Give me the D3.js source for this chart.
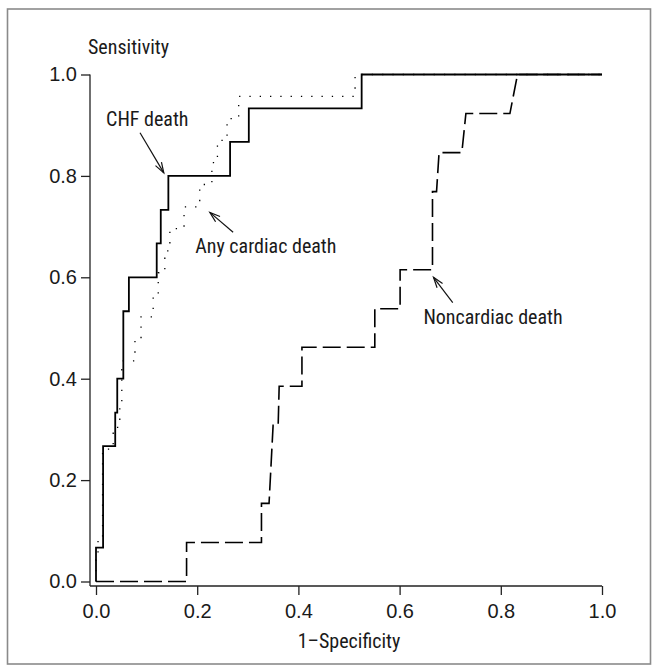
<!DOCTYPE html>
<html>
<head>
<meta charset="utf-8">
<script src="https://cdn.jsdelivr.net/npm/d3@7"></script>
<style>
  html, body { margin: 0; padding: 0; background: #fff; }
  svg { display: block; }
  text { font-family: "Liberation Sans Narrow", "Arial Narrow", "Roboto Condensed", "Liberation Sans", sans-serif; fill: #1a1a1a; }
</style>
</head>
<body>
<svg id="chart" width="657" height="672"></svg>
<script>
// ---- data (1-specificity, sensitivity) ----
const chfDeath = [
  [0,0],[0,0.067],[0.014,0.067],[0.014,0.267],[0.038,0.267],[0.038,0.333],
  [0.042,0.333],[0.042,0.4],[0.054,0.4],[0.054,0.533],[0.065,0.533],[0.065,0.6],
  [0.12,0.6],[0.12,0.667],[0.128,0.667],[0.128,0.733],[0.143,0.733],[0.143,0.8],
  [0.265,0.8],[0.265,0.867],[0.302,0.867],[0.302,0.933],[0.525,0.933],[0.525,1],[1,1]
];
const anyCardiacDeath = [
  [0,0],[0,0.043],[0.004,0.043],[0.004,0.087],[0.013,0.087],[0.013,0.261],
  [0.034,0.261],[0.034,0.304],[0.047,0.304],[0.047,0.348],[0.051,0.348],[0.051,0.435],
  [0.077,0.435],[0.077,0.478],[0.089,0.478],[0.089,0.522],[0.113,0.522],[0.113,0.565],
  [0.123,0.565],[0.123,0.609],[0.136,0.609],[0.136,0.652],[0.146,0.652],[0.146,0.696],
  [0.174,0.696],[0.174,0.739],[0.205,0.739],[0.205,0.783],[0.229,0.783],[0.229,0.826],
  [0.24,0.826],[0.24,0.87],[0.259,0.87],[0.259,0.913],[0.282,0.913],[0.282,0.957],
  [0.512,0.957],[0.512,1],[1,1]
];
const noncardiacDeath = [
  [0,0],[0.179,0],[0.179,0.077],[0.327,0.077],[0.327,0.154],[0.342,0.154],
  [0.350,0.308],[0.360,0.308],[0.362,0.385],[0.407,0.385],[0.407,0.462],[0.551,0.462],
  [0.551,0.538],[0.601,0.538],[0.601,0.615],[0.665,0.615],[0.665,0.769],[0.673,0.769],
  [0.678,0.846],[0.723,0.846],[0.731,0.923],[0.818,0.923],[0.833,1],[1,1]
];
const xTicks = [0, 0.2, 0.4, 0.6, 0.8, 1.0];
const yTicks = [0, 0.2, 0.4, 0.6, 0.8, 1.0];
const xLabel = "1–Specificity";
const yLabel = "Sensitivity";
// annotations: label position and arrow (tail -> tip), in data units
const labels = [
  { text: "CHF death",        x: 0.020, y: 0.898, tail: [0.087, 0.885], tip: [0.134, 0.806] },
  { text: "Any cardiac death", x: 0.196, y: 0.647, tail: [0.271, 0.689], tip: [0.225, 0.728] },
  { text: "Noncardiac death",  x: 0.647, y: 0.508, tail: [0.705, 0.550], tip: [0.667, 0.600] }
];

// ---- layout ----
const svg = d3.select("#chart");
const x = d3.scaleLinear().domain([0, 1]).range([96, 602]);
const y = d3.scaleLinear().domain([0, 1]).range([581.5, 74.5]);
const axisX = 90, axisY = 586;
const fontSize = 20;

// frame
svg.append("rect").attr("x", 7.5).attr("y", 9).attr("width", 643).attr("height", 655)
  .attr("fill", "none").attr("stroke", "#8a8a8a").attr("stroke-width", 1.6);

// axes
const gy = svg.append("g").attr("transform", `translate(${axisX},0)`)
  .call(d3.axisLeft(y).tickValues(yTicks).tickFormat(d3.format(".1f")).tickSize(9).tickSizeOuter(0).tickPadding(4));
gy.select(".domain").remove();
const gx = svg.append("g").attr("transform", `translate(0,${axisY})`)
  .call(d3.axisBottom(x).tickValues(xTicks).tickFormat(d3.format(".1f")).tickSize(9).tickSizeOuter(0).tickPadding(9));
gx.select(".domain").remove();
svg.selectAll(".tick line").attr("stroke", "#222").attr("stroke-width", 1.3);
svg.selectAll(".tick text").attr("font-size", fontSize).attr("fill", "#1a1a1a")
  .style("font-family", '"Liberation Sans Narrow", "Arial Narrow", "Liberation Sans", sans-serif');
svg.append("line").attr("x1", axisX).attr("x2", axisX).attr("y1", y.range()[1]).attr("y2", axisY)
  .attr("stroke", "#222").attr("stroke-width", 1.3);
svg.append("line").attr("x1", axisX).attr("x2", x.range()[1]).attr("y1", axisY).attr("y2", axisY)
  .attr("stroke", "#222").attr("stroke-width", 1.3);

// axis titles
svg.append("text").attr("x", 88).attr("y", 54).attr("font-size", fontSize).text(yLabel);
svg.append("text").attr("x", (x.range()[0] + x.range()[1]) / 2).attr("y", 648)
  .attr("text-anchor", "middle").attr("font-size", fontSize).text(xLabel);

// curves
const line = d3.line().x(d => x(d[0])).y(d => y(d[1]));
svg.append("path").datum(noncardiacDeath).attr("d", line)
  .attr("fill", "none").attr("stroke", "#000").attr("stroke-width", 1.6)
  .attr("stroke-dasharray", "18,6");
svg.append("path").datum(anyCardiacDeath).attr("d", line)
  .attr("fill", "none").attr("stroke", "#000").attr("stroke-width", 1.3)
  .attr("stroke-dasharray", "1.3,9");
svg.append("path").datum(chfDeath).attr("d", line)
  .attr("fill", "none").attr("stroke", "#000").attr("stroke-width", 1.8);

// annotations
labels.forEach(l => {
  svg.append("text").attr("x", x(l.x)).attr("y", y(l.y)).attr("font-size", fontSize).text(l.text);
  const x1 = x(l.tail[0]), y1 = y(l.tail[1]), x2 = x(l.tip[0]), y2 = y(l.tip[1]);
  svg.append("line").attr("x1", x1).attr("y1", y1).attr("x2", x2).attr("y2", y2)
    .attr("stroke", "#111").attr("stroke-width", 1.2);
  const ang = Math.atan2(y2 - y1, x2 - x1), len = 11, spread = 0.32;
  const p = [
    [x2 - len * Math.cos(ang - spread), y2 - len * Math.sin(ang - spread)],
    [x2, y2],
    [x2 - len * Math.cos(ang + spread), y2 - len * Math.sin(ang + spread)]
  ];
  svg.append("path").attr("d", d3.line()(p)).attr("fill", "none")
    .attr("stroke", "#111").attr("stroke-width", 1.2);
});
</script>
</body>
</html>
